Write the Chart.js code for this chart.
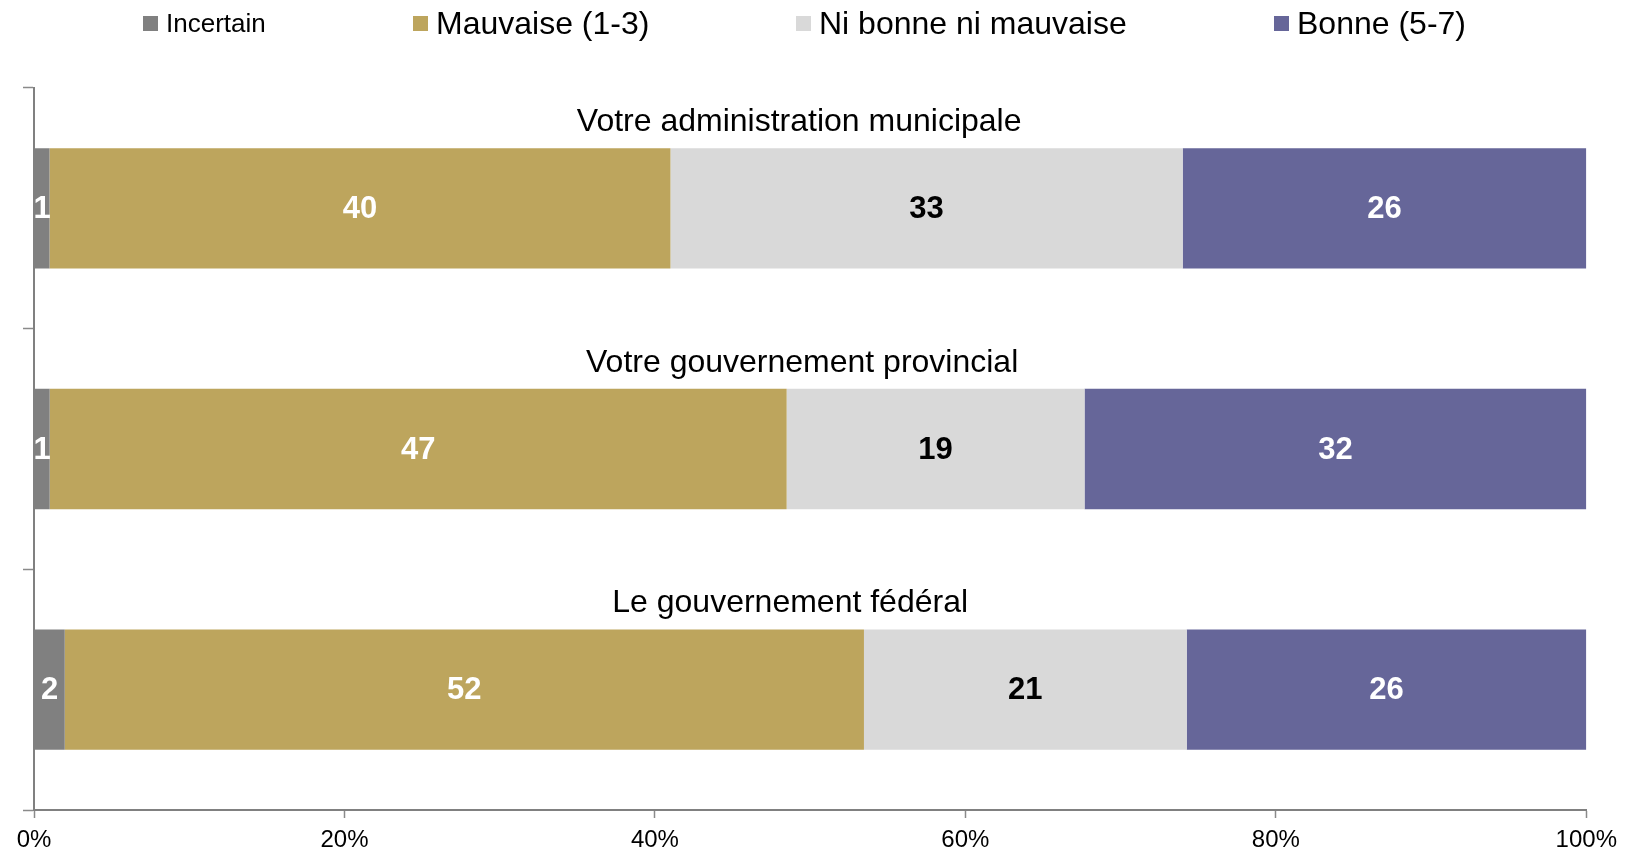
<!DOCTYPE html>
<html>
<head>
<meta charset="utf-8">
<script src="https://cdn.jsdelivr.net/npm/chart.js@4/dist/chart.umd.min.js"></script>
<style>
  body { margin: 0; background: #fff; font-family: "Liberation Sans", Arial, Helvetica, sans-serif; }
  #wrap { position: relative; width: 1625px; height: 854px; }
  .leg { position: absolute; top: 0; height: 46px; display: flex; align-items: center; color: #000; white-space: nowrap; }
  .leg i { display: inline-block; width: 15px; height: 15px; margin-right: 8px; }
</style>
</head>
<body>
<div id="wrap">
  <canvas id="myChart" width="1625" height="854"></canvas>
  <div id="legend"></div>
</div>
<script>
const categories = ["Votre administration municipale", "Votre gouvernement provincial", "Le gouvernement fédéral"];
const seriesNames = ["Incertain", "Mauvaise (1-3)", "Ni bonne ni mauvaise", "Bonne (5-7)"];
const incertain = [1, 1, 2];
const mauvaise = [40, 47, 52];
const niBonne = [33, 19, 21];
const bonne = [26, 32, 26];
const xTicks = [0, 20, 40, 60, 80, 100];

const seriesValues = [incertain, mauvaise, niBonne, bonne];
const seriesColors = ["#808080", "#BDA55D", "#D9D9D9", "#666699"];
const labelColors = ["#fff", "#fff", "#000", "#fff"];
const titleShift = [-11, -8, -20]; // category titles aren't exactly centred in the original

// the bars are stacked to 100% so each row gets normalised by its total
const totals = categories.map((c, i) => seriesValues.reduce((s, arr) => s + arr[i], 0));

// html legend (first item is drawn smaller in the original)
const legendPos = [
  { left: 143, size: 26 },
  { left: 413, size: 32 },
  { left: 796, size: 32 },
  { left: 1274, size: 32 }
];
const legendEl = document.getElementById("legend");
seriesNames.forEach((name, i) => {
  const d = document.createElement("div");
  d.className = "leg";
  d.style.left = legendPos[i].left + "px";
  d.style.fontSize = legendPos[i].size + "px";
  d.innerHTML = '<i style="background:' + seriesColors[i] + '"></i>' + name;
  legendEl.appendChild(d);
});

const FONT = "'Liberation Sans', Arial, Helvetica, sans-serif";

const barLabels = {
  id: "barLabels",
  afterDatasetsDraw(chart) {
    const ctx = chart.ctx;
    ctx.save();
    ctx.font = "bold 31px " + FONT;
    ctx.textAlign = "center";
    ctx.textBaseline = "middle";
    chart.data.datasets.forEach((ds, di) => {
      const meta = chart.getDatasetMeta(di);
      meta.data.forEach((bar, i) => {
        ctx.fillStyle = labelColors[di];
        ctx.fillText(String(seriesValues[di][i]), (bar.x + bar.base) / 2, bar.y + 1);
      });
    });

    // category titles above each bar
    const area = chart.chartArea;
    const meta0 = chart.getDatasetMeta(0);
    ctx.font = "32px " + FONT;
    ctx.fillStyle = "#000";
    meta0.data.forEach((bar, i) => {
      ctx.fillText(categories[i], (area.left + area.right) / 2 + titleShift[i], bar.y - bar.height / 2 - 26);
    });
    ctx.restore();
  }
};

new Chart("myChart", {
  type: "bar",
  data: {
    labels: categories,
    datasets: seriesNames.map((name, si) => ({
      label: name,
      data: seriesValues[si].map((v, i) => v / totals[i] * 100),
      backgroundColor: seriesColors[si],
      borderWidth: 0,
      categoryPercentage: 1,
      barPercentage: 0.5
    }))
  },
  options: {
    indexAxis: "y",
    responsive: false,
    animation: false,
    layout: { padding: { top: 88, left: 23, right: 38, bottom: 0 } },
    plugins: {
      legend: { display: false },
      tooltip: { enabled: false }
    },
    scales: {
      x: {
        stacked: true,
        min: 0,
        max: 100,
        afterBuildTicks: (scale) => { scale.ticks = xTicks.map(v => ({ value: v })); },
        afterFit: (scale) => { scale.height = 44; },
        ticks: {
          callback: (v) => v + "%",
          color: "#000",
          padding: 8,
          maxRotation: 0,
          font: { family: FONT, size: 24 }
        },
        grid: { drawOnChartArea: false, tickLength: 8, tickColor: "#8a8a8a", tickWidth: 1.5 },
        border: { color: "#808080", width: 2 }
      },
      y: {
        stacked: true,
        offset: true,
        ticks: { display: false },
        grid: { offset: true, drawOnChartArea: false, tickLength: 11, tickColor: "#8a8a8a", tickWidth: 1.5 },
        border: { color: "#808080", width: 2 }
      }
    }
  },
  plugins: [barLabels]
});
</script>
</body>
</html>
